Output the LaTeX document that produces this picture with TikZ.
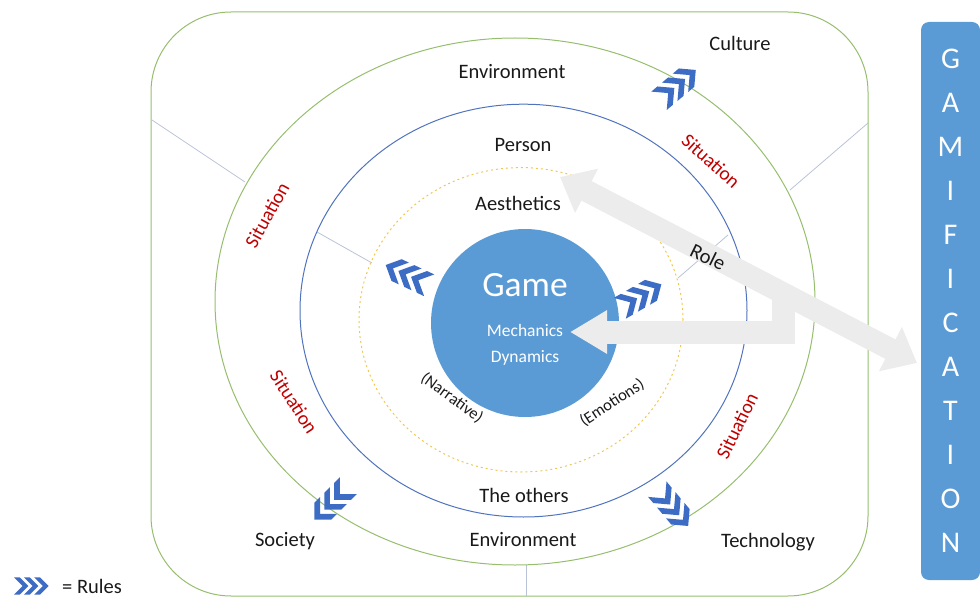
\documentclass[tikz,border=0pt]{standalone}
\usepackage{fontspec}
\setmainfont{Carlito}
\usetikzlibrary{arrows.meta}

\definecolor{gamblue}{RGB}{91,155,213}
\definecolor{rulecol}{RGB}{61,108,196}
\definecolor{ringgreen}{RGB}{150,190,110}
\definecolor{ringblue}{RGB}{80,115,190}
\definecolor{ringyellow}{RGB}{240,200,80}
\definecolor{divider}{RGB}{185,195,215}
\definecolor{sitred}{RGB}{192,0,0}
\definecolor{rolegray}{RGB}{236,236,236}

\tikzset{
  lbl/.style={font=\fontsize{20.5}{24}\selectfont, text=black!90, inner sep=0pt},
  sit/.style={font=\fontsize{19.5}{23}\selectfont, text=sitred, inner sep=0pt},
  innerlbl/.style={font=\fontsize{17.5}{21}\selectfont, text=white, inner sep=0pt},
  paren/.style={font=\fontsize{16.5}{20}\selectfont, text=black!90, inner sep=0pt},
  divline/.style={draw=divider, line width=0.8pt},
  rolearrow/.style={draw=rolegray, line width=22pt,
    {Triangle[width=48pt,length=30pt]}-{Triangle[width=48pt,length=30pt]}},
  mecharrow/.style={draw=rolegray, line width=23pt, line join=miter,
    -{Triangle[width=41pt,length=37pt]}},
  rules/.pic={
    \foreach \k in {0,1,2}{
      \fill[rulecol] (\k*14,-12) -- (\k*14+8,-12) -- (\k*14+20,0)
        -- (\k*14+8,12) -- (\k*14,12) -- (\k*14+12,0) -- cycle;
    }
  }
}

\begin{document}
\begin{tikzpicture}[x=1pt,y=-1pt]
\useasboundingbox (0,0) rectangle (980,599);

% outer frame
\draw[ringgreen, line width=1pt, rounded corners=80pt] (151,12) rectangle (868,596);

% sector dividers
\coordinate (d1a) at (152,120); \coordinate (d1b) at (245,182);
\coordinate (d2a) at (317,232); \coordinate (d2b) at (372,263);
\coordinate (d3a) at (868,123); \coordinate (d3b) at (790,190);
\coordinate (d4a) at (728,235); \coordinate (d4b) at (678,278);
\coordinate (d5a) at (526,565); \coordinate (d5b) at (526,596);
\draw[divline] (d1a) -- (d1b);
\draw[divline] (d2a) -- (d2b);
\draw[divline] (d3a) -- (d3b);
\draw[divline] (d4a) -- (d4b);
\draw[divline] (d5a) -- (d5b);

% rings
\draw[ringgreen, line width=1pt] (515,301.5) ellipse [x radius=300pt, y radius=263.5pt];
\draw[ringblue, line width=1pt] (523.5,310.6) ellipse [x radius=223.5pt, y radius=206.4pt];
\draw[ringyellow, line width=1pt, dash pattern=on 2pt off 3pt] (521,319.8) ellipse [x radius=162pt, y radius=152.2pt];

% game core
\node[circle, fill=gamblue, minimum size=188pt, inner sep=0pt] (game) at (525,323) {};

% gamification box
\node[fill=gamblue, rounded corners=8pt, minimum width=59pt, minimum height=558pt,
      inner sep=0pt, text=white, align=center, font=\fontsize{30}{44}\selectfont]
  (gamif) at (950.5,301) {G\\A\\M\\I\\F\\I\\C\\A\\T\\I\\O\\N};

% role arrows
\coordinate (rA) at (560,177);
\coordinate (rB) at (917,363);
\draw[rolearrow] (rA) -- (rB);
\coordinate (mstub) at (783,291);
\coordinate (mtip) at (570,332);
\draw[mecharrow] (mstub) |- (mtip);

% labels
\node[lbl] (culture) at (740,43) {Culture};
\node[lbl] (envtop) at (512,72) {Environment};
\node[lbl] (person) at (523,145) {Person};
\node[lbl] (aesth) at (518,203) {Aesthetics};
\node[font=\fontsize{35.5}{40}\selectfont, text=white, inner sep=0pt] (gamelbl) at (525,285) {Game};
\node[innerlbl] (mech) at (525,330) {Mechanics};
\node[innerlbl] (dyn) at (525,358) {Dynamics};
\node[paren, rotate=-36] (narr) at (452,398) {(Narrative)};
\node[paren, rotate=33] (emo) at (612,403) {(Emotions)};
\node[lbl, rotate=-26] (role) at (708,257) {Role};
\node[lbl] (others) at (524,495) {The others};
\node[lbl] (envbot) at (523,540) {Environment};
\node[lbl] (society) at (285,541) {Society};
\node[lbl] (tech) at (768,542) {Technology};

\node[sit, rotate=61] (sit1) at (267,215) {Situation};
\node[sit, rotate=-42] (sit2) at (711,161) {Situation};
\node[sit, rotate=-57] (sit3) at (294,402) {Situation};
\node[sit, rotate=64] (sit4) at (737,426) {Situation};

% rule chevrons
\pic[rotate=40] at (659,100.8) {rules};
\pic[rotate=155] at (429.2,285.3) {rules};
\pic[rotate=30] at (619.8,308.3) {rules};
\pic[rotate=225] at (348.3,485.7) {rules};
\pic[rotate=-50] at (657.3,489.2) {rules};

% legend
\pic[scale=0.72] at (14,586) {rules};
\node[lbl, anchor=west] (legend) at (62,586) {= Rules};
\end{tikzpicture}
\end{document}
